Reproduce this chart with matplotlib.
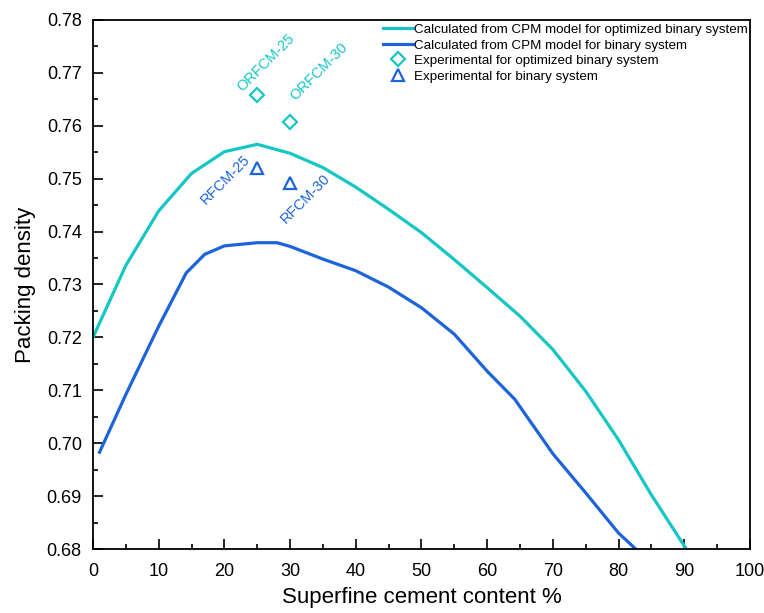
import matplotlib
matplotlib.use("Agg")
import matplotlib.pyplot as plt
from matplotlib.ticker import MultipleLocator, FormatStrFormatter

plt.rcParams['font.family'] = ['Liberation Sans', 'DejaVu Sans']

# Calculated, optimized binary system
x_opt = [0, 5, 10, 15, 20, 25, 30, 35, 40, 45, 50, 55, 60, 65, 70, 75, 80, 85, 90.3]
y_opt = [0.7200, 0.7336, 0.7439, 0.7510, 0.7551, 0.7565, 0.7548, 0.7521, 0.7484, 0.7442,
         0.7398, 0.7347, 0.7294, 0.7240, 0.7177, 0.7098, 0.7006, 0.6902, 0.6800]

# Calculated, binary system
x_bin = [1, 5, 10, 14.2, 17, 20, 25, 28, 30, 35, 40, 45, 50, 55, 60, 64.2, 70, 75, 80, 82.6]
y_bin = [0.6983, 0.7092, 0.7221, 0.7322, 0.7357, 0.7373, 0.7379, 0.7379, 0.7372, 0.7348,
         0.7326, 0.7295, 0.7256, 0.7206, 0.7136, 0.7083, 0.6980, 0.6906, 0.6830, 0.6800]

# Experimental points
x_exp_opt = [25, 30]
y_exp_opt = [0.7658, 0.7607]
lab_exp_opt = ['ORFCM-25', 'ORFCM-30']

x_exp_bin = [25, 30]
y_exp_bin = [0.7521, 0.7491]
lab_exp_bin = ['RFCM-25', 'RFCM-30']

cyan = '#14c6c4'
blue = '#1d64dc'

fig = plt.figure(figsize=(7.64, 6.13), dpi=100)
ax = fig.add_axes([0.1217, 0.1044, 0.8600, 0.8630])

ax.plot(x_opt, y_opt, color=cyan, lw=2.3, label='Calculated from CPM model for optimized binary system')
ax.plot(x_bin, y_bin, color=blue, lw=2.3, label='Calculated from CPM model for binary system')
ax.plot(x_exp_opt, y_exp_opt, ls='none', marker='D', ms=7, mfc='none', mec=cyan, mew=1.6,
        label='Experimental for optimized binary system')
ax.plot(x_exp_bin, y_exp_bin, ls='none', marker='^', ms=9, mfc='none', mec=blue, mew=1.6,
        label='Experimental for binary system')

# labels (offsets in points)
offs_opt = [(6, 23), (21, 36)]
offs_bin = [(-23, -8.5), (11, -11)]
for xv, yv, t, o in zip(x_exp_opt, y_exp_opt, lab_exp_opt, offs_opt):
    ax.annotate(t, (xv, yv), xytext=o, textcoords='offset points', rotation=45,
                ha='center', va='center', color=cyan, fontsize=10.5, rotation_mode='anchor')
for xv, yv, t, o in zip(x_exp_bin, y_exp_bin, lab_exp_bin, offs_bin):
    ax.annotate(t, (xv, yv), xytext=o, textcoords='offset points', rotation=45,
                ha='center', va='center', color=blue, fontsize=10.5, rotation_mode='anchor')

ax.set_xlim(0, 100)
ax.set_ylim(0.68, 0.78)
ax.xaxis.set_major_locator(MultipleLocator(10))
ax.xaxis.set_minor_locator(MultipleLocator(5))
ax.yaxis.set_major_locator(MultipleLocator(0.01))
ax.yaxis.set_minor_locator(MultipleLocator(0.005))
ax.yaxis.set_major_formatter(FormatStrFormatter('%.2f'))
ax.tick_params(which='both', direction='in', top=False, right=False, labelsize=13, width=1.2)
ax.tick_params(which='major', length=7)
ax.tick_params(which='minor', length=3.6)
ax.tick_params(axis='x', which='major', pad=10)
ax.tick_params(axis='y', which='major', pad=8)
for s in ax.spines.values():
    s.set_linewidth(1.3)

ax.set_xlabel('Superfine cement content %', fontsize=16, labelpad=5)
ax.set_ylabel('Packing density', fontsize=16, labelpad=8)

leg = ax.legend(loc='upper right', bbox_to_anchor=(1.0, 0.998), frameon=False, fontsize=9.6,
                handlelength=2.2, handletextpad=0.08, borderaxespad=0.1, borderpad=0.1,
                labelspacing=0.24, markerscale=0.95)

fig.savefig('out.png', dpi=100)
